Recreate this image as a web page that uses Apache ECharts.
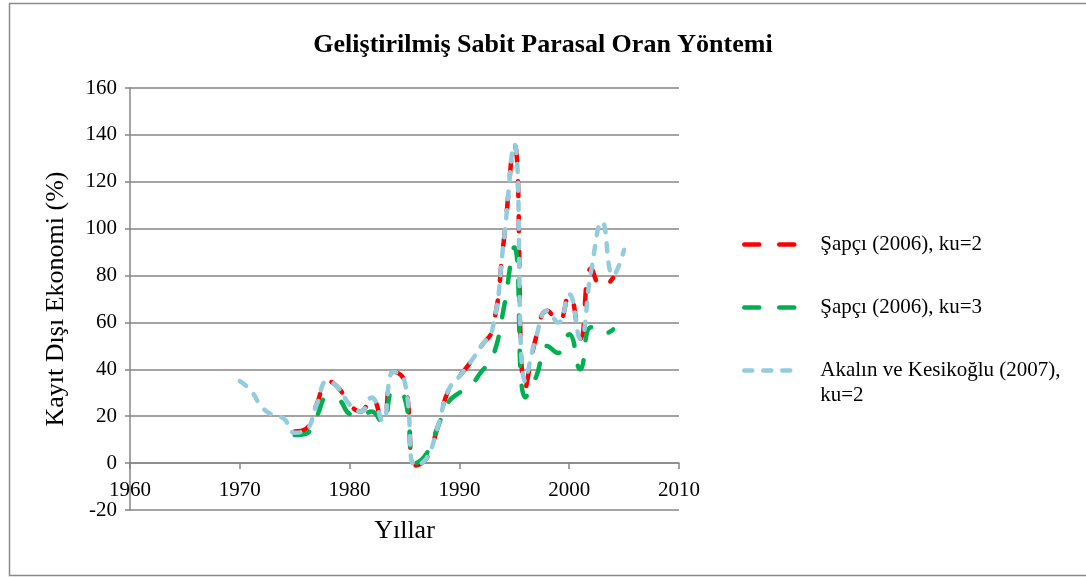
<!DOCTYPE html>
<html>
<head>
<meta charset="utf-8">
<script src="https://cdn.jsdelivr.net/npm/echarts@6/dist/echarts.min.js"></script>
<style>
  html, body { margin: 0; padding: 0; background: #fff; }
  #chart { width: 1086px; height: 578px; }
</style>
</head>
<body>
<div id="chart"></div>
<script>
  // years of the three estimates
  const yearsAkalin = [1970, 1971, 1972, 1973, 1974, 1975, 1976, 1977, 1978, 1979,
    1980, 1981, 1982, 1983, 1984, 1985, 1986, 1987, 1988, 1989,
    1990, 1991, 1992, 1993, 1994, 1995, 1996, 1997, 1998, 1999,
    2000, 2001, 2002, 2003, 2004, 2005];
  const yearsSapci = [1975, 1976, 1977, 1978, 1979,
    1980, 1981, 1982, 1983, 1984, 1985, 1986, 1987, 1988, 1989,
    1990, 1991, 1992, 1993, 1994, 1995, 1996, 1997, 1998, 1999,
    2000, 2001, 2002, 2003, 2004];

  // values (%)
  const akalinKu2 = [35, 31, 24, 20.5, 19, 13, 14, 25, 35, 32,
    25, 22, 28, 18, 39, 35, -1, 2, 15, 31,
    37, 43, 50, 57, 93, 136, 35, 54, 65, 60,
    72, 53, 82, 103, 80, 91];
  const sapciKu2 = [13.5, 14.5, 25, 35, 32,
    25, 22, 28, 17.5, 39, 35, -1, 2, 15, 31,
    37, 43, 50, 57, 93, 136, 32, 54, 65, 60,
    72, 53, 83, 75, 79];
  const sapciKu3 = [12, 12.5, 20, 28, 27,
    21, 20, 22, 17, 31, 28, 0, 4, 15, 26,
    30, 33, 39, 45, 65, 92, 28, 37, 50, 47,
    55, 40, 58, 55, 57];

  const seriesNames = ['Şapçı (2006), ku=2', 'Şapçı (2006), ku=3', 'Akalın ve Kesikoğlu (2007), ku=2'];
  const colors = ['#ff0000', '#00b050', '#93cddd'];
  const dashes = [[15, 20], [15, 20], [8, 11]];

  function pairs(xs, ys) {
    return xs.map(function (x, i) { return [x, ys[i]]; });
  }

  const font = 'Liberation Serif, Times New Roman, serif';
  const axisGray = '#868686';

  const chart = echarts.init(document.getElementById('chart'));

  // wrapped label: a blank first line keeps the icon level with the first text line
  function legendAt(i, top, wrap) {
    return {
      data: [{ name: seriesNames[i] }],
      left: 742,
      top: top,
      padding: 0,
      itemWidth: 55,
      itemHeight: 20,
      itemStyle: { color: 'rgba(0,0,0,0)', borderWidth: 0 },
      lineStyle: { color: colors[i], width: 4.5, type: dashes[i], cap: 'round' },
      formatter: function (n) { return wrap ? ' \n' + n.replace(', ku', ',\nku') : n; },
      textStyle: {
        fontFamily: font,
        fontSize: 21,
        color: '#000',
        lineHeight: 25,
        padding: [0, 0, 0, 16]
      }
    };
  }

  function line(i, xs, ys, z) {
    return {
      name: seriesNames[i],
      type: 'line',
      smooth: 0.5,
      symbol: 'none',
      data: pairs(xs, ys),
      lineStyle: { color: colors[i], width: 4.5, type: dashes[i], cap: 'round' },
      itemStyle: { color: colors[i] },
      z: z
    };
  }

  const option = {
    animation: false,
    backgroundColor: '#fff',
    title: {
      text: 'Geliştirilmiş Sabit Parasal Oran Yöntemi',
      left: 'center',
      top: 27,
      textStyle: {
        fontFamily: font,
        fontSize: 26,
        fontWeight: 'bold',
        color: '#000'
      }
    },
    graphic: [{
      type: 'rect',
      shape: { x: 9.5, y: 3.5, width: 1100, height: 572 },
      style: { fill: 'none', stroke: '#8a8a8a', lineWidth: 1.5 },
      silent: true
    }],
    legend: [
      legendAt(0, 232),
      legendAt(1, 295),
      legendAt(2, 333, true)
    ],
    grid: {
      left: 130,
      right: 407,
      top: 88,
      bottom: 68,
      containLabel: false,
      outerBoundsMode: 'none'
    },
    xAxis: {
      type: 'value',
      min: 1960,
      max: 2010,
      interval: 10,
      name: 'Yıllar',
      nameLocation: 'middle',
      nameGap: 8,
      nameMoveOverlap: false,
      nameTextStyle: { fontFamily: font, fontSize: 26, color: '#000' },
      axisLine: { show: true, onZero: true, lineStyle: { color: axisGray, width: 1.5 } },
      axisTick: { show: true, length: 6, lineStyle: { color: axisGray, width: 1.5 } },
      axisLabel: {
        fontFamily: font, fontSize: 21, color: '#000', margin: -30,
        formatter: function (v) { return String(v); }
      },
      splitLine: { show: false }
    },
    yAxis: {
      type: 'value',
      min: -20,
      max: 160,
      interval: 20,
      name: 'Kayıt Dışı Ekonomi (%)',
      nameLocation: 'middle',
      nameRotate: 90,
      nameGap: 61,
      nameMoveOverlap: false,
      nameTextStyle: { fontFamily: font, fontSize: 26, color: '#000' },
      axisLine: { show: true, onZero: false, lineStyle: { color: axisGray, width: 1.5 } },
      axisTick: { show: true, length: 5, lineStyle: { color: axisGray, width: 1.5 } },
      axisLabel: { fontFamily: font, fontSize: 21, color: '#000', margin: 13 },
      splitLine: { show: true, lineStyle: { color: axisGray, width: 1.5 } }
    },
    series: [
      line(0, yearsSapci, sapciKu2, 2),
      line(1, yearsSapci, sapciKu3, 3),
      line(2, yearsAkalin, akalinKu2, 4)
    ]
  };

  chart.setOption(option);
</script>
</body>
</html>
